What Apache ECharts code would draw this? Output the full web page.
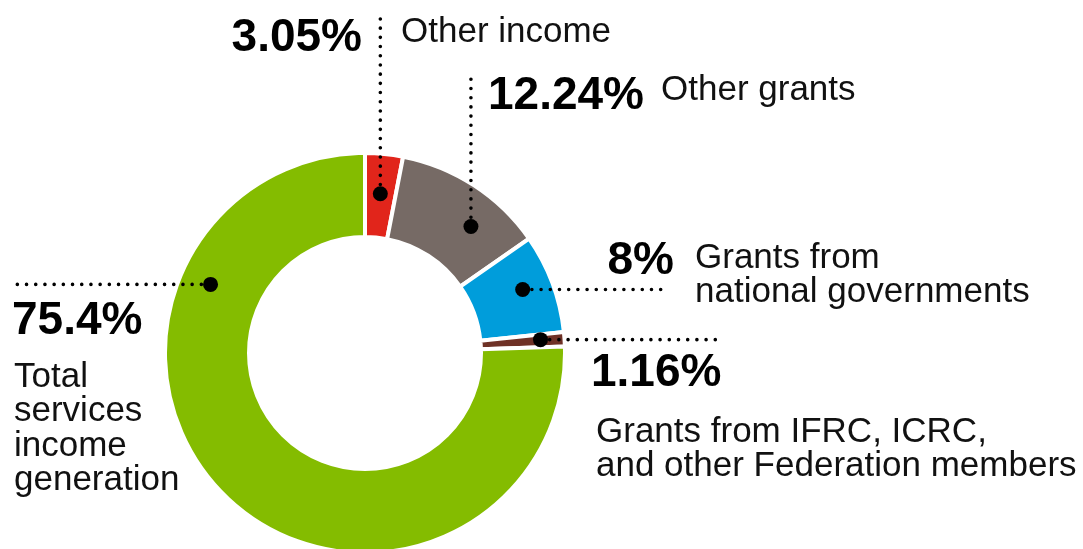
<!DOCTYPE html>
<html>
<head>
<meta charset="utf-8">
<script src="https://cdn.jsdelivr.net/npm/echarts@6/dist/echarts.min.js"></script>
<style>
  html, body { margin: 0; padding: 0; background: #ffffff; }
  #chart { width: 1083px; height: 549px; }
</style>
</head>
<body>
<div id="chart"></div>
<script>
// Income sources, share of total (%), clockwise from 12 o'clock
const categories = [
  'Other income',
  'Other grants',
  'Grants from\nnational governments',
  'Grants from IFRC, ICRC,\nand other Federation members',
  'Total\nservices\nincome\ngeneration'
];
const shares = [3.05, 12.24, 8, 1.16, 75.4];
const colors = ['#e1251b', '#766a65', '#009ddb', '#6e3126', '#84bc00'];

// Ring geometry
const CX = 365, CY = 353, R_IN = 116, R_OUT = 200;

// Where each callout dot sits inside its slice (fraction along the arc, radius)
const anchorFrac = [0.5, 0.656, 0.448, 0.4, 0.757];
const anchorR = [160, 165, 170, 176, 169];

// Callout layout: leader direction/extent, value text and description text (baselines)
const callouts = [
  { dir: 'v', end: 18,  val: { x: 362, y: 52,  align: 'right' }, desc: { x: 401, y: 42 } },
  { dir: 'v', end: 77,  val: { x: 488, y: 110, align: 'left' },  desc: { x: 661, y: 100 } },
  { dir: 'h', end: 669, val: { x: 674, y: 275, align: 'right' }, desc: { x: 695, y: 268 } },
  { dir: 'h', end: 718, val: { x: 591, y: 387, align: 'left' },  desc: { x: 596, y: 442 } },
  { dir: 'h', end: 15,  val: { x: 12,  y: 335, align: 'left' },  desc: { x: 14,  y: 387 } }
];

const FONT = '"Liberation Sans", Arial, Helvetica, sans-serif';
const VAL_SIZE = 46, DESC_SIZE = 35, DESC_LH = 34.5;
const MID_TO_BASE = 0.29; // distance from text middle to alphabetic baseline, in em

const chart = echarts.init(document.getElementById('chart'), null, { renderer: 'canvas' });

const total = shares.reduce((a, b) => a + b, 0);

function buildGraphics() {
  const els = [];
  let startDeg = 0;
  shares.forEach((v, i) => {
    const span = v / total * 360;
    const a = (startDeg + anchorFrac[i] * span) * Math.PI / 180;
    startDeg += span;
    const px = CX + anchorR[i] * Math.sin(a);
    const py = CY - anchorR[i] * Math.cos(a);
    const c = callouts[i];
    const line = c.dir === 'v'
      ? { x1: px, y1: py, x2: px, y2: c.end }
      : { x1: px, y1: py, x2: c.end, y2: py };
    els.push({
      type: 'line', z: 100, silent: true, shape: line,
      style: { stroke: '#000', lineWidth: 3.6, lineDash: [0, 9.2], lineCap: 'round' }
    });
    els.push({
      type: 'circle', z: 101, silent: true,
      shape: { cx: px, cy: py, r: 7.5 }, style: { fill: '#000' }
    });
    // value text
    els.push({
      type: 'text', z: 102, silent: true,
      x: c.val.x, y: c.val.y - MID_TO_BASE * VAL_SIZE,
      style: {
        text: v + '%', fill: '#000',
        font: 'bold ' + VAL_SIZE + 'px ' + FONT,
        align: c.val.align, textAlign: c.val.align,
        verticalAlign: 'middle', textVerticalAlign: 'middle'
      }
    });
    // description text
    els.push({
      type: 'text', z: 102, silent: true,
      x: c.desc.x, y: c.desc.y - MID_TO_BASE * DESC_SIZE - DESC_LH / 2,
      style: {
        text: categories[i], fill: '#111',
        font: DESC_SIZE + 'px ' + FONT,
        lineHeight: DESC_LH,
        align: 'left', textAlign: 'left',
        verticalAlign: 'top', textVerticalAlign: 'top'
      }
    });
  });
  return els;
}

chart.setOption({
  animation: false,
  backgroundColor: '#ffffff',
  series: [{
    type: 'pie',
    center: [CX, CY],
    radius: [R_IN, R_OUT],
    startAngle: 90,
    clockwise: true,
    silent: true,
    label: { show: false },
    labelLine: { show: false },
    emphasis: { disabled: true },
    itemStyle: { borderColor: '#ffffff', borderWidth: 4 },
    data: shares.map((v, i) => ({
      name: categories[i], value: v, itemStyle: { color: colors[i] }
    }))
  }],
  graphic: { elements: buildGraphics() }
});
</script>
</body>
</html>
